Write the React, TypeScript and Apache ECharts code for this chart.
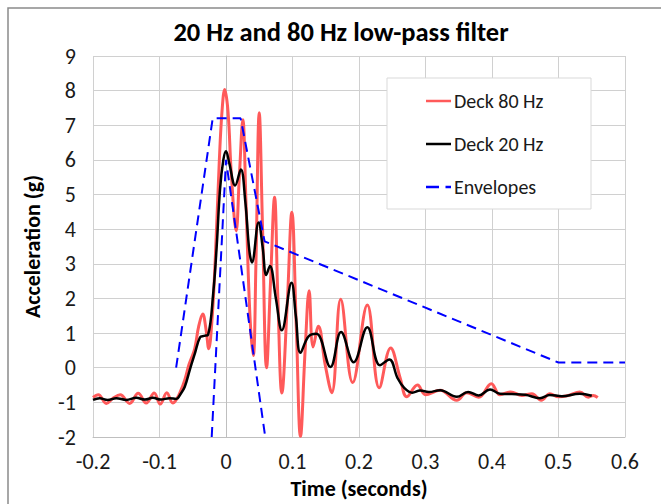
import React, { useEffect, useRef } from "react";
import * as echarts from "echarts";

const FONT = "Carlito, Lato, 'Open Sans', sans-serif";

// Deck 80 Hz (time in s, acceleration in g)
const t80 = [
  -0.2, -0.192, -0.18, -0.17, -0.159, -0.145, -0.132, -0.12, -0.108, -0.099, -0.089, -0.08, -0.074,
  -0.068, -0.062, -0.056, -0.052, -0.047, -0.041, -0.035, -0.03, -0.026, -0.021, -0.016, -0.01,
  -0.006, -0.002, 0.003, 0.008, 0.0153, 0.02, 0.0253, 0.03, 0.036, 0.041, 0.045, 0.05, 0.055,
  0.061, 0.067, 0.073, 0.078, 0.084, 0.092, 0.099, 0.106, 0.112, 0.119, 0.125, 0.131, 0.139,
  0.149, 0.159, 0.1725, 0.1905, 0.2125, 0.2305, 0.2476, 0.262, 0.272, 0.288, 0.3, 0.322, 0.347,
  0.362, 0.38, 0.399, 0.412, 0.428, 0.445, 0.46, 0.474, 0.487, 0.5, 0.515, 0.532, 0.545, 0.552,
  0.559,
];
const deck80 = [
  -0.86, -0.78, -1.03, -0.88, -0.78, -1.03, -0.74, -1.02, -0.73, -1.05, -0.72, -1.02, -0.9,
  -0.66, -0.35, 0.07, 0.28, 0.55, 1.2, 1.55, 1.1, 0.55, 1.4, 3.2, 6.0,
  7.4, 8.03, 7.4, 5.6, 3.95, 5.5, 7.16, 4.8, 1.5, 0.35, 3.0, 7.36, 4.0,
  0.0, 2.5, 4.92, 2.0, -0.73, 1.8, 4.49, 1.0, -1.98, 0.5, 2.22, 0.6, 1.2,
  0.1, -0.72, 1.98, -0.43, 1.81, -0.58, 0.57, -0.3, -0.84, -0.5, -0.78, -0.65, -0.94,
  -0.72, -0.85, -0.46, -0.78, -0.7, -0.8, -0.75, -0.94, -0.75, -0.84, -0.8, -0.7, -0.85, -0.8,
  -0.86,
];

// Deck 20 Hz
const t20 = [
  -0.2, -0.19, -0.178, -0.165, -0.15, -0.135, -0.122, -0.11, -0.098, -0.085, -0.075, -0.068,
  -0.062, -0.054, -0.047, -0.039, -0.033, -0.027, -0.019, -0.014, -0.009, -0.004, 0.0, 0.005,
  0.0138, 0.0223, 0.029, 0.035, 0.039, 0.049, 0.055, 0.0606, 0.066, 0.075, 0.084, 0.0985, 0.105,
  0.112, 0.124, 0.136, 0.157, 0.173, 0.192, 0.2125, 0.2315, 0.2455, 0.258, 0.268, 0.28, 0.292,
  0.305, 0.322, 0.347, 0.364, 0.38, 0.397, 0.412, 0.43, 0.45, 0.472, 0.487, 0.505, 0.532, 0.55,
];
const deck20 = [
  -0.93, -0.88, -0.93, -0.88, -0.93, -0.87, -0.92, -0.87, -0.92, -0.88, -0.9, -0.75,
  -0.55, -0.03, 0.4, 0.88, 0.92, 0.95, 2.2, 3.5, 5.15, 6.0, 6.25, 5.9,
  5.26, 5.72, 4.8, 3.4, 3.04, 4.19, 3.5, 2.68, 2.94, 2.0, 1.08, 2.45, 1.5,
  0.43, 0.9, 0.98, 0.02, 1.03, 0.16, 1.17, 0.07, 0.24, -0.3, -0.58, -0.72, -0.66,
  -0.7, -0.65, -0.84, -0.7, -0.8, -0.63, -0.75, -0.76, -0.78, -0.88, -0.79, -0.82, -0.75, -0.81,
];

// Envelopes
const envOuterT = [-0.075, -0.02, 0.022, 0.058, 0.5, 0.6];
const envOuterY = [0, 7.2, 7.2, 3.65, 0.15, 0.15];
const envInnerT = [-0.0215, 0.0, 0.059];
const envInnerY = [-2, 6.0, -2];

const xTicks = { min: -0.2, max: 0.6, interval: 0.1 };
const yTicks = { min: -2, max: 9, interval: 1 };

const zip = (a: number[], b: number[]) => a.map((v, i) => [v, b[i]]);

const ICON_SOLID = "path://M0,0 H25 V2.5 H0 Z";
const ICON_DASH = "path://M0,0 H13 V2.5 H0 Z M19.5,0 H25 V2.5 H19.5 Z";

export default function App() {
  const ref = useRef<HTMLDivElement>(null);
  useEffect(() => {
    if (!ref.current) return;
    const chart = echarts.init(ref.current, null, { renderer: "svg" });
    const gridColor = "#d0d0d0";
    const axisLabel = { color: "#1a1a1a", fontSize: 22, fontFamily: FONT };
    const nameStyle = { fontSize: 22, fontWeight: "bold", fontFamily: FONT, color: "#000" };
    chart.setOption({
      animation: false,
      backgroundColor: "#fff",
      grid: { left: 93, right: 36, top: 56, bottom: 66, containLabel: false },
      graphic: [
        {
          type: "rect",
          z: 0,
          shape: { x: 8, y: 8, width: 720, height: 720 },
          style: { fill: "none", stroke: "#8a8a8a", lineWidth: 1.5 },
          silent: true,
        },
        {
          type: "text",
          x: 341,
          y: 32,
          style: {
            text: "20 Hz and 80 Hz low-pass filter",
            textAlign: "center",
            textVerticalAlign: "middle",
            fontSize: 26.5,
            fontWeight: "bold",
            fontFamily: FONT,
            fill: "#000",
          },
        },
        {
          type: "rect",
          z: 3,
          shape: { x: 387, y: 78, width: 204, height: 131 },
          style: { fill: "#fff", stroke: "#d9d9d9", lineWidth: 1 },
          silent: true,
        },
      ],
      legend: {
        z: 4,
        left: 426,
        top: 89,
        orient: "vertical",
        padding: 0,
        itemWidth: 25,
        itemHeight: 3,
        itemGap: 19,
        textStyle: { fontSize: 20, lineHeight: 24, fontFamily: FONT, color: "#1a1a1a", padding: [0, 0, 0, -2] },
        data: [
          { name: "Deck 80 Hz", icon: ICON_SOLID },
          { name: "Deck 20 Hz", icon: ICON_SOLID },
          { name: "Envelopes", icon: ICON_DASH },
        ],
      },
      xAxis: {
        type: "value",
        min: xTicks.min,
        max: xTicks.max,
        interval: xTicks.interval,
        name: "Time (seconds)",
        nameLocation: "middle",
        nameGap: 40,
        nameTextStyle: nameStyle,
        axisLine: { onZero: false, lineStyle: { color: "#bfbfbf", width: 1 } },
        axisTick: { show: false },
        axisLabel: { ...axisLabel, margin: 13 },
        splitLine: { lineStyle: { color: gridColor, width: 1 } },
      },
      yAxis: {
        type: "value",
        min: yTicks.min,
        max: yTicks.max,
        interval: yTicks.interval,
        name: "Acceleration (g)",
        nameLocation: "middle",
        nameGap: 50,
        nameTextStyle: nameStyle,
        axisLine: { show: true, lineStyle: { color: "#bfbfbf", width: 1 } },
        axisTick: { show: false },
        axisLabel: { ...axisLabel, margin: 17 },
        splitLine: { lineStyle: { color: gridColor, width: 1 } },
      },
      series: [
        {
          name: "Deck 80 Hz",
          type: "line",
          data: zip(t80, deck80),
          smooth: 0.4,
          symbol: "none",
          lineStyle: { color: "#ff5a5a", width: 3 },
          itemStyle: { color: "#ff5a5a" },
          z: 2,
        },
        {
          name: "Deck 20 Hz",
          type: "line",
          data: zip(t20, deck20),
          smooth: 0.4,
          symbol: "none",
          lineStyle: { color: "#000", width: 2.5 },
          itemStyle: { color: "#000" },
          z: 2,
        },
        {
          name: "Envelopes",
          type: "line",
          data: zip(envOuterT, envOuterY),
          symbol: "none",
          lineStyle: { color: "#0000ff", width: 2, type: [10, 6] },
          itemStyle: { color: "#0000ff" },
          z: 2,
        },
        {
          name: "Envelopes",
          type: "line",
          data: zip(envInnerT, envInnerY),
          symbol: "none",
          lineStyle: { color: "#0000ff", width: 2, type: [10, 6] },
          itemStyle: { color: "#0000ff" },
          z: 2,
        },
      ],
    });
    return () => chart.dispose();
  }, []);
  return <div ref={ref} style={{ position: "absolute", left: 0, top: 0, width: 661, height: 504 }} />;
}
